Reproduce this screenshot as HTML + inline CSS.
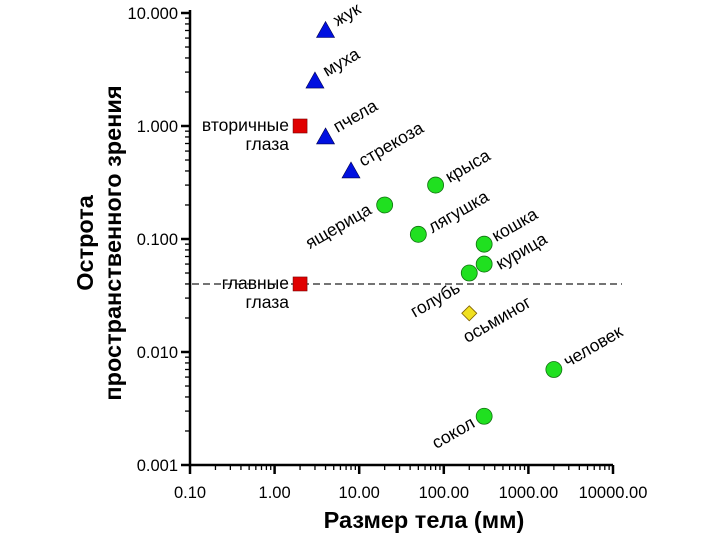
<!DOCTYPE html>
<html><head><meta charset="utf-8"><style>
html,body{margin:0;padding:0;background:#fff;}
svg{display:block;font-family:"Liberation Sans",sans-serif;}
</style></head><body>
<svg id="chart" width="720" height="540" viewBox="0 0 720 540"></svg>
<script>
const names = ["жук","муха","пчела","стрекоза","вторичные глаза","главные глаза","ящерица","крыса","лягушка","кошка","курица","голубь","осьминог","человек","сокол"];
const sizes = [4,3,4,8,2,2,20,80,50,300,300,200,200,2000,300];
const acuity = [7,2.5,0.8,0.4,1,0.04,0.2,0.3,0.11,0.09,0.06,0.05,0.022,0.007,0.0027];
const kinds = ["tri","tri","tri","tri","sq","sq","circ","circ","circ","circ","circ","circ","dia","circ","circ"];
const xTicks = ["0.10","1.00","10.00","100.00","1000.00","10000.00"];
const yTicks = ["0.001","0.010","0.100","1.000","10.000"];
const refLine = [0.04];

const NS="http://www.w3.org/2000/svg";
const svg=document.getElementById('chart');
const X0=190,XD=84.6,Y0=465,YD=113;
const xs=v=>X0+XD*Math.log10(v/0.1);
const ys=v=>Y0-YD*(Math.log10(v)+3);
function mk(t,a,p){const e=document.createElementNS(NS,t);for(const k in a)e.setAttribute(k,a[k]);(p||svg).appendChild(e);return e;}

const dl=mk('line',{x1:192,x2:622,y1:ys(refLine[0]),y2:ys(refLine[0]),stroke:'#222','stroke-width':1.2,'stroke-dasharray':'7,4'});



const ax=mk('path',{d:`M${X0} 10V${Y0}H${xs(10000)}`,stroke:'#000','stroke-width':2.5,fill:'none'});


for(let d=0;d<5;d++){for(let m=2;m<10;m++){const x=xs(0.1*Math.pow(10,d)*m);mk('line',{x1:x,x2:x,y1:Y0,y2:Y0+5,stroke:'#000','stroke-width':1.3});}}
xTicks.forEach((t,i)=>{const x=xs(parseFloat(t));mk('line',{x1:x,x2:x,y1:Y0,y2:Y0+9,stroke:'#000','stroke-width':2.5});
 const tx=mk('text',{x:x,y:Y0+33,'text-anchor':'middle','font-size':16.5,fill:'#000'});tx.textContent=t;
 
 });
for(let d=0;d<4;d++){for(let m=2;m<10;m++){const y=ys(0.001*Math.pow(10,d)*m);mk('line',{x1:X0-5,x2:X0,y1:y,y2:y,stroke:'#000','stroke-width':1.3});}}
yTicks.forEach((t,i)=>{const y=ys(parseFloat(t));mk('line',{x1:X0-9,x2:X0,y1:y,y2:y,stroke:'#000','stroke-width':2.5});
 const tx=mk('text',{x:X0-12,y:y+6,'text-anchor':'end','font-size':16.5,fill:'#000'});tx.textContent=t;
 
 });

const labelOff={"жук":[12,-4,'start'],"муха":[12,-4,'start'],"пчела":[12,-4,'start'],"стрекоза":[12,-4,'start'],
"ящерица":[-12,8,'end'],"крыса":[14,-2,'start'],"лягушка":[14,-1,'start'],"кошка":[12,-2,'start'],"курица":[16,6,'start'],
"голубь":[-8,18,'end'],"осьминог":[-2,30,'start'],"человек":[14,-2,'start'],"сокол":[-8,10,'end']};
names.forEach((n,i)=>{const x=xs(sizes[i]),y=ys(acuity[i]);let e;
 if(kinds[i]==='tri')e=mk('polygon',{points:`${x},${y-9} ${x+9},${y+7} ${x-9},${y+7}`,fill:'#0010e0',stroke:'#000050','stroke-width':0.6});
 else if(kinds[i]==='sq')e=mk('rect',{x:x-7,y:y-7,width:14,height:14,fill:'#e00000',stroke:'#700','stroke-width':0.6});
 else if(kinds[i]==='dia')e=mk('polygon',{points:`${x},${y-7.5} ${x+7.5},${y} ${x},${y+7.5} ${x-7.5},${y}`,fill:'#f0e020',stroke:'#806000','stroke-width':0.8});
 else e=mk('circle',{cx:x,cy:y,r:8,fill:'#20e020',stroke:'#107010','stroke-width':0.8});
 
 
 if(kinds[i]==='sq'){const parts=n.split(' ');parts.forEach((p,j)=>{const t=mk('text',{x:289,y:y+5+(j*19),'text-anchor':'end','font-size':17.5,fill:'#000'});t.textContent=p;
   
   });}
 else{const o=labelOff[n];const lx=x+o[0],ly=y+o[1];
  const t=mk('text',{x:lx,y:ly,'text-anchor':o[2],'font-size':17.5,fill:'#000',transform:`rotate(-30 ${lx} ${ly})`});t.textContent=n;
  
  }
});
const xt=mk('text',{x:424,y:528,'text-anchor':'middle','font-size':23.5,'font-weight':'bold',fill:'#000'});xt.textContent='Размер тела (мм)';


const yt=mk('text',{transform:'translate(0,243) rotate(-90)','text-anchor':'middle','font-size':23.5,'font-weight':'bold',fill:'#000'});


const t1=mk('tspan',{x:0,y:93},yt);t1.textContent='Острота';
const t2=mk('tspan',{x:0,y:121},yt);t2.textContent='пространственного зрения';
</script>
</body></html>
